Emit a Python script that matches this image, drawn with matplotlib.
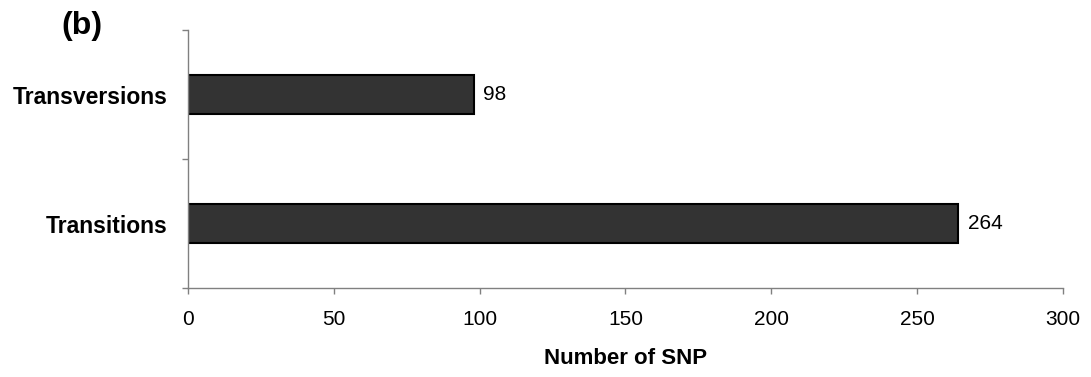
import matplotlib.pyplot as plt

plt.rcParams['font.family'] = ['Liberation Sans', 'DejaVu Sans']

categories = ['Transitions', 'Transversions']
snp_counts = [264, 98]
x_ticks = [0, 50, 100, 150, 200, 250, 300]

fig = plt.figure(figsize=(10.91, 3.77), dpi=100)
ax = fig.add_axes([0.1723, 0.236, 0.8020, 0.684])

pos = list(range(len(categories)))
bars = ax.barh(pos, snp_counts, height=0.30, color='#333333',
               edgecolor='black', linewidth=1.5)
for b, v in zip(bars, snp_counts):
    ax.text(b.get_width() + 3.3, b.get_y() + b.get_height() / 2, str(v),
            va='center', ha='left', fontsize=15)

ax.set_xlim(0, 300)
ax.set_ylim(-0.5, 1.5)
ax.set_xticks(x_ticks)
ax.set_yticks(pos)
ax.set_yticklabels(categories, fontsize=16.5, fontweight='bold')
ax.set_yticks([-0.5, 0.5, 1.5], minor=True)
ax.tick_params(axis='y', which='major', length=0, pad=15)
ax.tick_params(axis='y', which='minor', length=4.5, color='#808080', width=1)
ax.tick_params(axis='x', length=4.5, color='#808080', width=1, labelsize=15, pad=11)

for s in ['top', 'right']:
    ax.spines[s].set_visible(False)
for s in ['left', 'bottom']:
    ax.spines[s].set_color('#808080')
    ax.spines[s].set_linewidth(1)

ax.set_xlabel('Number of SNP', fontsize=16, fontweight='bold', labelpad=14)
fig.text(82 / 1091, 1 - 26 / 377, '(b)', fontsize=23, fontweight='bold',
         ha='center', va='center')

fig.savefig('out.png', dpi=100)
